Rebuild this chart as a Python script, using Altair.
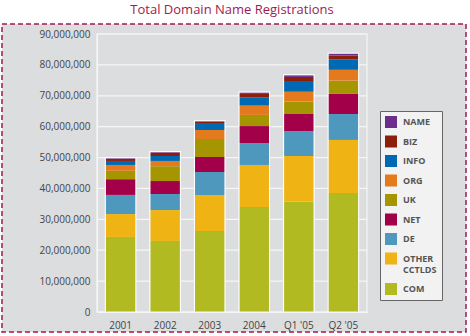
import altair as alt
import pandas as pd

periods = ["2001", "2002", "2003", "2004", "Q1 '05", "Q2 '05"]
series = ["Name", "Biz", "Info", "Org", "uk", "Net", "de", "Other ccTLDs", "Com"]
colors = ["#6b2d8e", "#8c1e0c", "#0069b4", "#e37b1e", "#a59500",
          "#a3004a", "#4d98bc", "#efb313", "#b1ba20"]

# values in millions
com = [24.3, 23.0, 26.2, 34.0, 35.7, 38.5]
other_cctlds = [7.4, 10.0, 11.7, 13.6, 14.8, 17.2]
de = [6.2, 5.2, 7.4, 7.1, 8.1, 8.4]
net = [5.1, 4.2, 4.9, 5.5, 5.5, 6.5]
uk = [2.7, 4.8, 5.8, 3.6, 4.0, 4.3]
org = [1.9, 1.7, 2.9, 3.0, 3.2, 3.5]
info = [1.3, 1.6, 2.3, 2.6, 3.2, 3.3]
biz = [0.7, 1.1, 0.4, 1.2, 1.6, 1.3]
name = [0.15, 0.15, 0.15, 0.4, 0.5, 0.6]

tick_values = [0, 10e6, 20e6, 30e6, 40e6, 50e6, 60e6, 70e6, 80e6, 90e6]

series_values = {
    "Com": com, "Other ccTLDs": other_cctlds, "de": de, "Net": net, "uk": uk,
    "Org": org, "Info": info, "Biz": biz, "Name": name,
}
stack_order = ["Com", "Other ccTLDs", "de", "Net", "uk", "Org", "Info", "Biz", "Name"]

rows = []
for rank, s in enumerate(stack_order):
    for p, v in zip(periods, series_values[s]):
        rows.append({"period": p, "series": s, "value": v * 1e6, "rank": rank})
df = pd.DataFrame(rows)
grid_df = pd.DataFrame({"v": tick_values})
one = pd.DataFrame({"a": [0]})

W, H = 270, 278
FONT = "Open Sans"

x_enc = alt.X("period:N", sort=periods,
              scale=alt.Scale(paddingInner=0.34, paddingOuter=0.2),
              axis=alt.Axis(title=None, labelAngle=0, ticks=False, domainColor="#f6f6f6",
                            domainWidth=1.2, labelPadding=8, labelFont=FONT, labelFontSize=10,
                            labelColor="#444", zindex=1))
y_scale = alt.Scale(domain=[0, 90e6], nice=False)
y_axis = alt.Axis(title=None, values=tick_values, format=",d", ticks=False, grid=False,
                  domainColor="#f6f6f6", domainWidth=1.2, labelPadding=7,
                  labelFont=FONT, labelFontSize=10, labelColor="#444", zindex=1)

background = alt.Chart(one).mark_rect(
    fill="#dcdddf", stroke="#9e1a52", strokeWidth=1.5, strokeDash=[5, 3]
).encode(x=alt.value(-95), x2=alt.value(369), y=alt.value(-10), y2=alt.value(298))

grid = alt.Chart(grid_df).mark_rule(color="#f6f6f6", strokeWidth=1.2).encode(
    y=alt.Y("v:Q", scale=y_scale, axis=y_axis)
)

frame = alt.Chart(one).mark_rect(fill=None, stroke="#f6f6f6", strokeWidth=1.2).encode(
    x=alt.value(0), x2=alt.value(W), y=alt.value(0), y2=alt.value(H)
)

totals = alt.Chart(df).mark_bar(stroke="white", strokeWidth=2.2, fill="white").encode(
    x=x_enc,
    y=alt.Y("sum(value):Q", scale=y_scale, axis=y_axis),
)

bars = alt.Chart(df).mark_bar(strokeWidth=0).encode(
    x=x_enc,
    y=alt.Y("value:Q", stack="zero", scale=y_scale, axis=y_axis),
    color=alt.Color("series:N", scale=alt.Scale(domain=series, range=colors),
                    legend=alt.Legend(
                        orient="none", legendX=283, legendY=77, title=None,
                        fillColor="#f2f2f2", strokeColor="#666", padding=5,
                        symbolType="square", symbolSize=144, symbolStrokeWidth=0,
                        symbolOpacity=1,
                        labelFont=FONT, labelFontSize=9, labelFontWeight="bold",
                        labelColor="#555", rowPadding=7.5, labelOffset=6,
                        labelExpr="datum.label == 'Other ccTLDs' ? ['OTHER', 'CCTLDS'] : upper(datum.label)")),
    order=alt.Order("rank:Q", sort="ascending"),
)

chart = alt.layer(background, grid, totals, bars, frame).properties(
    width=W, height=H,
    title=alt.TitleParams("Total Domain Name Registrations", font=FONT, fontSize=13,
                          fontWeight="normal", color="#9e1a55", anchor="middle", offset=6),
    autosize=alt.AutoSizeParams(type="none"),
    padding={"left": 97, "top": 34, "right": 103, "bottom": 24},
    background="white",
).configure(style={"guide-label": {"lineHeight": 11.5}}).configure_view(stroke=None)

chart.save("out.html", embed_options={"renderer": "svg", "actions": False})
